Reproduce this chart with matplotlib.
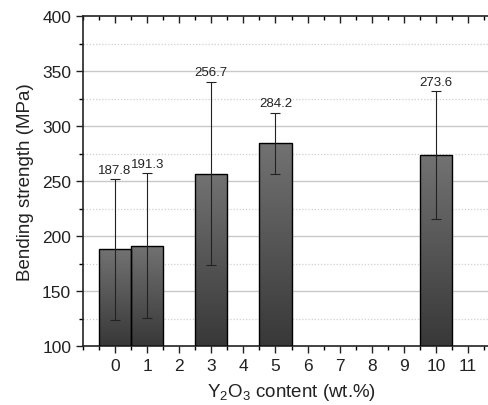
import numpy as np
import matplotlib.pyplot as plt
from matplotlib.ticker import MultipleLocator
from matplotlib.colors import LinearSegmentedColormap

plt.rcParams['font.family'] = ['Liberation Sans', 'DejaVu Sans']
plt.rcParams['mathtext.fontset'] = 'custom'
plt.rcParams['mathtext.rm'] = 'Liberation Sans'

# Y2O3 content (wt.%) and bending strength (MPa)
content = [0, 1, 3, 5, 10]
strength = [187.8, 191.3, 256.7, 284.2, 273.6]
err = [64.0, 66.0, 83.5, 28.0, 58.0]
xticks = list(range(0, 12))

fig = plt.figure(figsize=(4.88, 4.06), dpi=100)
ax = fig.add_axes([83 / 488, 1 - 347 / 406, 417 / 488, 330 / 406])

# gridlines: solid at major, dotted at minor
for y in range(150, 400, 50):
    ax.axhline(y, color='#c8c8c8', lw=1.0, zorder=0)
for y in range(125, 400, 50):
    ax.axhline(y, color='#d0d0d0', lw=0.9, ls=(0, (1, 1.5)), zorder=0)

# bars with vertical gray gradient
cmap = LinearSegmentedColormap.from_list('g', ['#383838', '#727272'])
grad = np.linspace(0, 1, 256).reshape(-1, 1)
bars = ax.bar(content, [s - 100 for s in strength], bottom=100, width=1.0,
              facecolor='none', edgecolor='black', lw=1.0, zorder=3)
for b in bars:
    x0, y0 = b.get_x(), b.get_y()
    im = ax.imshow(grad, cmap=cmap, origin='lower', aspect='auto',
                   extent=(x0, x0 + b.get_width(), y0, y0 + b.get_height()),
                   zorder=2)
    im.set_clip_path(b)
ax.set_xlim(-1, 12)
ax.set_ylim(100, 400)

ax.errorbar(content, strength, yerr=err, fmt='none', ecolor='#222222',
            elinewidth=0.8, capsize=3.5, capthick=0.8, zorder=4)

for x, s, e in zip(content, strength, err):
    ax.text(x, s + e + 3, f'{s:.1f}', ha='center', va='bottom', fontsize=9.5,
            color='#222222', zorder=5)

ax.set_xticks(xticks)
ax.xaxis.set_minor_locator(MultipleLocator(0.5))
ax.yaxis.set_major_locator(MultipleLocator(50))
ax.yaxis.set_minor_locator(MultipleLocator(25))
ax.tick_params(axis='both', which='major', direction='out', length=5,
               width=1, labelsize=12.5, colors='#222222')
ax.tick_params(axis='both', which='minor', direction='out', length=3, width=1)
ax.tick_params(axis='x', which='both', top=True)
ax.spines['right'].set_visible(False)
for s in ['left', 'bottom', 'top']:
    ax.spines[s].set_linewidth(1.2)
    ax.spines[s].set_color('#222222')
# inward ticks on the top spine
for t in ax.xaxis.get_major_ticks() + ax.xaxis.get_minor_ticks():
    t.tick2line.set_marker(3)

ax.set_xlabel('Y$_2$O$_3$ content (wt.%)', fontsize=13.5, color='#222222', labelpad=6)
ax.set_ylabel('Bending strength (MPa)', fontsize=13.5, color='#222222', labelpad=6)

fig.savefig('out.png', dpi=100)
